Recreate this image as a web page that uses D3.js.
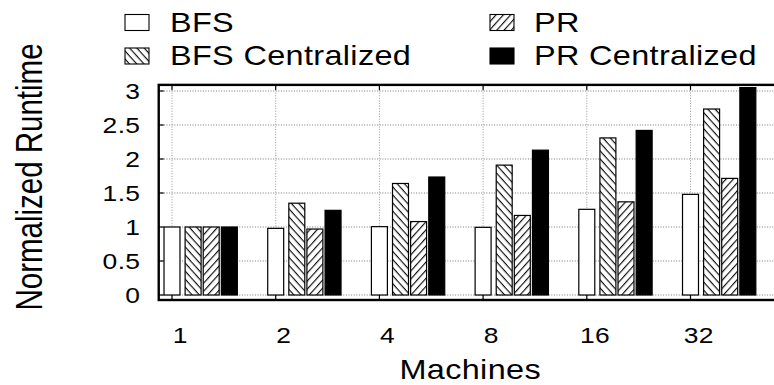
<!DOCTYPE html>
<html>
<head>
<meta charset="utf-8">
<script src="https://cdn.jsdelivr.net/npm/d3@7"></script>
<style>
  html, body { margin: 0; padding: 0; background: #fff; }
  svg { display: block; }
  text { font-family: "Liberation Sans", Arial, Helvetica, sans-serif; fill: #000; }
</style>
</head>
<body>
<svg id="chart" width="774" height="385"></svg>
<script>
// ---- data ----
const categories = ["1", "2", "4", "8", "16", "32"];
const seriesNames = ["BFS", "BFS Centralized", "PR", "PR Centralized"];
const bfs            = [1.00, 0.98, 1.005, 0.995, 1.26, 1.48];
const bfsCentralized = [1.00, 1.35, 1.64, 1.91, 2.31, 2.735];
const pr             = [1.00, 0.97, 1.08, 1.17, 1.37, 1.715];
const prCentralized  = [1.00, 1.245, 1.735, 2.13, 2.42, 3.05];
const yTicks = [0, 0.5, 1, 1.5, 2, 2.5, 3];
const yTickLabels = ["0", "0.5", "1", "1.5", "2", "2.5", "3"];
const xLabel = "Machines";
const yLabel = "Normalized Runtime";

const seriesValues = [bfs, bfsCentralized, pr, prCentralized];
const seriesFill = ["#fff", "url(#hatchBack)", "url(#hatchFwd)", "#000"];
const seriesOffset = [0, 0.2035, 0.378, 0.553];
const barW = 0.154;

const svg = d3.select("#chart");

// patterns
const defs = svg.append("defs");
function hatch(id, angle) {
  const p = defs.append("pattern")
    .attr("id", id)
    .attr("patternUnits", "userSpaceOnUse")
    .attr("width", 10).attr("height", 5.4)
    .attr("patternTransform", `rotate(${angle})`);
  p.append("rect").attr("width", 10).attr("height", 5.4).attr("fill", "#fff");
  p.append("line").attr("x1", 0).attr("x2", 10).attr("y1", 0.6).attr("y2", 0.6)
    .attr("stroke", "#000").attr("stroke-width", 1.1);
}
hatch("hatchBack", 48);
hatch("hatchFwd", -48);

// scales
const x = d3.scaleLinear().domain([0, 5]).range([172, 690.5]);
const y = d3.scaleLinear().domain([0, 3]).range([295, 91]);
const xMin = -0.128, xMax = 5.9;
const yMin = -0.0735, yMax = 3.09;
const L = x(xMin), R = x(xMax), T = y(yMax), B = y(yMin);

// grid
const grid = svg.append("g");
grid.selectAll("line.h").data(yTicks).join("line")
  .attr("x1", L).attr("x2", R)
  .attr("y1", d => y(d)).attr("y2", d => y(d))
  .attr("stroke", "#777").attr("stroke-width", 1)
  .attr("stroke-dasharray", "1,1.6");
grid.selectAll("line.v").data(categories).join("line")
  .attr("x1", (d, i) => x(i)).attr("x2", (d, i) => x(i))
  .attr("y1", T).attr("y2", B)
  .attr("stroke", "#999").attr("stroke-width", 1)
  .attr("stroke-dasharray", "1,1.6");

// bars
seriesValues.forEach((vals, s) => {
  svg.append("g").selectAll("rect").data(vals).join("rect")
    .attr("x", (d, i) => x(i + seriesOffset[s] - barW / 2))
    .attr("width", x(barW) - x(0))
    .attr("y", d => y(d))
    .attr("height", d => y(0) - y(d))
    .attr("fill", seriesFill[s])
    .attr("stroke", "#000")
    .attr("stroke-width", 1.2);
});

// ticks (inward)
const ticks = svg.append("g").attr("stroke", "#000").attr("stroke-width", 1.2);
ticks.selectAll("line.b").data(categories).join("line")
  .attr("x1", (d, i) => x(i)).attr("x2", (d, i) => x(i))
  .attr("y1", B).attr("y2", B - 5);
ticks.selectAll("line.t").data(categories).join("line")
  .attr("x1", (d, i) => x(i)).attr("x2", (d, i) => x(i))
  .attr("y1", T).attr("y2", T + 5);
ticks.selectAll("line.l").data(yTicks).join("line")
  .attr("x1", L).attr("x2", L + 5)
  .attr("y1", d => y(d)).attr("y2", d => y(d));

// frame
svg.append("rect")
  .attr("x", L).attr("y", T).attr("width", R - L).attr("height", B - T)
  .attr("fill", "none").attr("stroke", "#000").attr("stroke-width", 2.4);

// stretched text helper
function stext(g, tx, ty, str, size, anchor, o = {}) {
  const sx = o.sx ?? 1.2, ls = o.ls ?? 0.3, rot = o.rot;
  let dx = 0;
  if (anchor === "end") dx = ls;
  else if (anchor === "middle") dx = ls / 2;
  return g.append("text")
    .attr("transform", `translate(${tx},${ty}) scale(${sx},1)` + (rot ? ` rotate(${rot})` : ""))
    .attr("dx", dx)
    .attr("text-anchor", anchor)
    .attr("font-size", size)
    .attr("letter-spacing", ls)
    .text(str);
}

// y tick labels
const yl = svg.append("g");
yTicks.forEach((v, i) => {
  stext(yl, 140, y(v) + 8, yTickLabels[i], 22, "end");
});
// x tick labels
const xl = svg.append("g");
categories.forEach((c, i) => {
  stext(xl, x(i) + 8, 343, c, 22, "middle");
});

// axis titles
stext(svg, 470, 379, xLabel, 27, "middle");
stext(svg, 42, 177, yLabel, 29.5, "middle", { sx: 1.25, ls: 0, rot: -90 });

// legend
const leg = svg.append("g");
const legPos = [
  { sx: 125, sy: 14.5, tx: 170, ty: 31.7 },
  { sx: 125, sy: 48,   tx: 170, ty: 65 },
  { sx: 490, sy: 14.5, tx: 534, ty: 31.7 },
  { sx: 490, sy: 48,   tx: 534, ty: 65 }
];
seriesNames.forEach((name, s) => {
  const p = legPos[s];
  leg.append("rect")
    .attr("x", p.sx).attr("y", p.sy).attr("width", 24).attr("height", 16)
    .attr("fill", seriesFill[s]).attr("stroke", "#000").attr("stroke-width", 1.1);
  stext(leg, p.tx, p.ty, name, 27, "start");
});
</script>
</body>
</html>
